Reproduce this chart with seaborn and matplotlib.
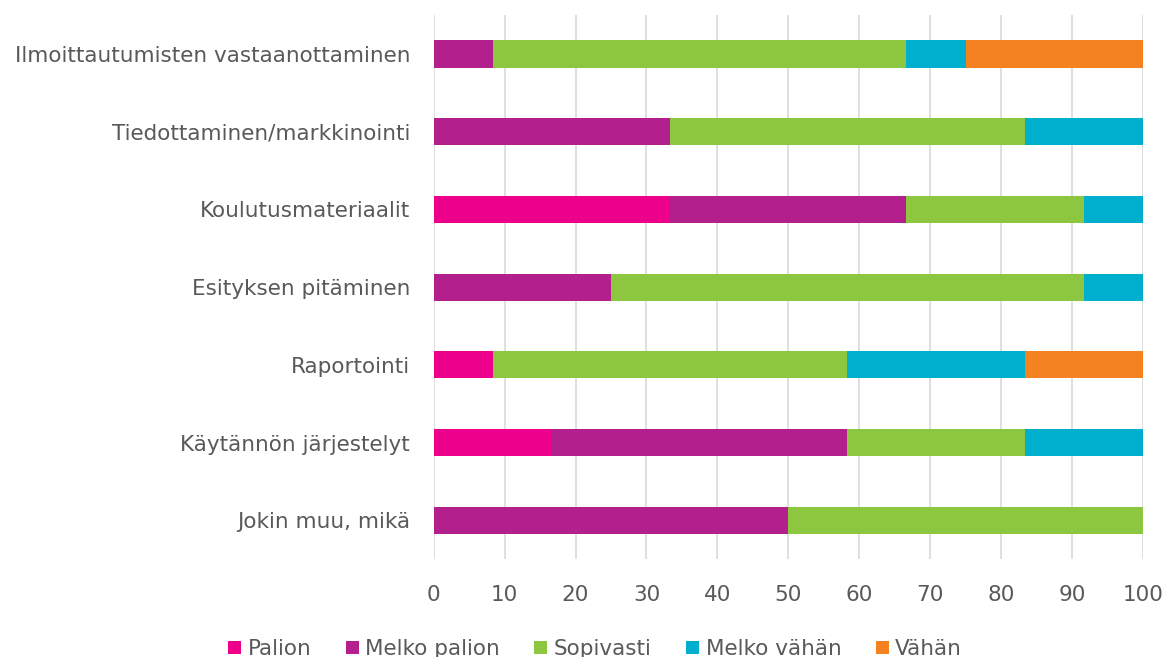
import matplotlib
matplotlib.use("Agg")
import matplotlib.pyplot as plt
from matplotlib.patches import Patch
import seaborn as sns
import pandas as pd
import numpy as np

categories = [
    "Ilmoittautumisten vastaanottaminen",
    "Tiedottaminen/markkinointi",
    "Koulutusmateriaalit",
    "Esityksen pitäminen",
    "Raportointi",
    "Käytännön järjestelyt",
    "Jokin muu, mikä",
]
series_names = ["Palion", "Melko palion", "Sopivasti", "Melko vähän", "Vähän"]
palion = [0, 0, 33.33, 0, 8.33, 16.67, 0]
melko_palion = [8.33, 33.33, 33.33, 25, 0, 41.67, 50]
sopivasti = [58.33, 50, 25, 66.67, 50, 25, 50]
melko_vahan = [8.33, 16.67, 8.33, 8.33, 25, 16.67, 0]
vahan = [25, 0, 0, 0, 16.67, 0, 0]
xticks = [0, 10, 20, 30, 40, 50, 60, 70, 80, 90, 100]

colors = ["#EC008C", "#B41F8E", "#8DC63F", "#00AECD", "#F58220"]
values = [palion, melko_palion, sopivasti, melko_vahan, vahan]

sns.set_theme(style="white")
plt.rcParams["font.family"] = ["DejaVu Sans"]
text_color = "#595959"
fs = 15.5

fig = plt.figure(figsize=(11.67, 6.57), dpi=100)
ax = fig.add_axes([0.3716, 0.149, 0.9794 - 0.3716, 0.977 - 0.149])

cum = np.zeros(len(categories))
cums = []
for v in values:
    cum = cum + np.array(v)
    cums.append(cum.copy())

# draw from the largest cumulative down so earlier series overlay later ones
for name, c, col in reversed(list(zip(series_names, cums, colors))):
    d = pd.DataFrame({"category": categories, "value": c})
    sns.barplot(data=d, y="category", x="value", order=categories,
                color=col, width=0.35, orient="h", ax=ax,
                saturation=1, linewidth=0, errorbar=None)

ax.set_xlim(0, 100)
ax.set_ylim(6.5, -0.5)
ax.set_xticks(xticks)
ax.set_xticklabels([str(t) for t in xticks])
ax.xaxis.grid(True, color="#D9D9D9", linewidth=1.2)
ax.set_axisbelow(True)
for s in ax.spines.values():
    s.set_visible(False)
ax.tick_params(axis="both", length=0, labelsize=fs, labelcolor=text_color)
ax.tick_params(axis="x", pad=19)
ax.tick_params(axis="y", pad=17)
ax.set_xlabel("")
ax.set_ylabel("")

handles = [Patch(facecolor=col, edgecolor="none", label=n) for n, col in zip(series_names, colors)]
fig.legend(handles=handles, loc="center", bbox_to_anchor=(0.51, 0.012), ncol=5,
           frameon=False, fontsize=fs, labelcolor=text_color,
           handlelength=0.6, handleheight=0.6, handletextpad=0.3, columnspacing=1.6)

fig.savefig("out.png", dpi=100)
